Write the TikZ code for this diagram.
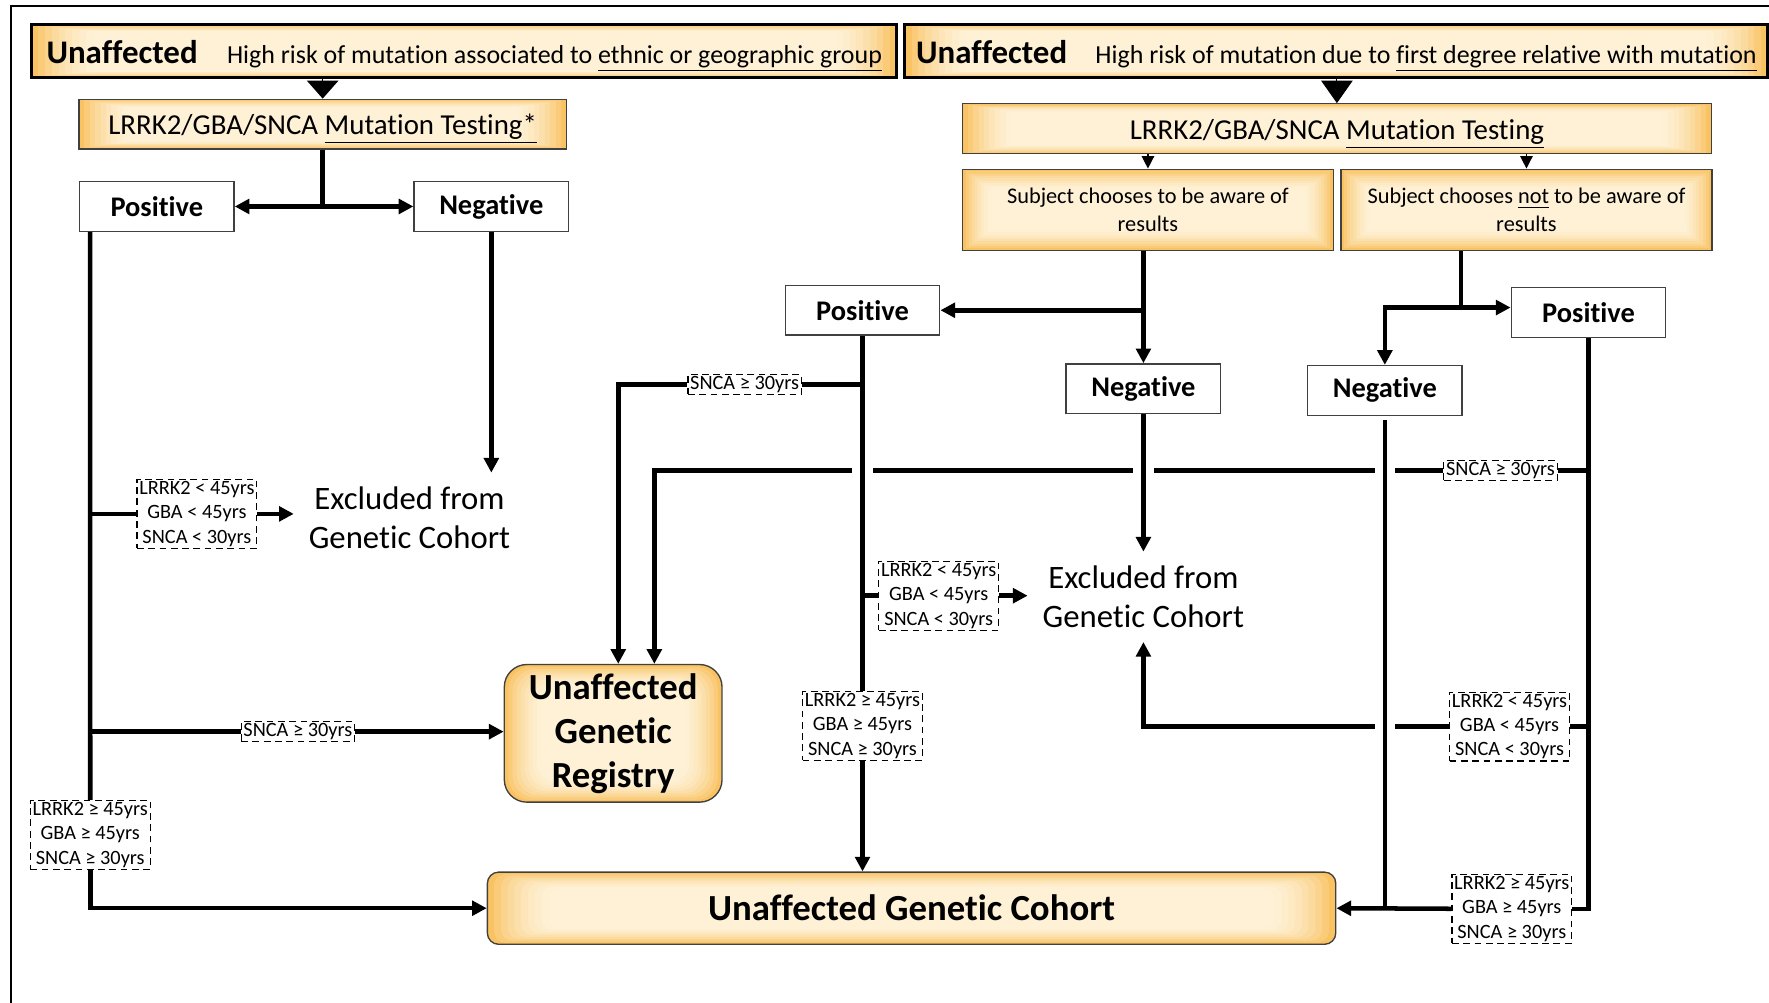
\documentclass[tikz,border=0pt]{standalone}
\usepackage{fontspec}
\setmainfont[Ligatures={NoCommon,NoContextual}]{Carlito}
\usetikzlibrary{arrows}
\usetikzlibrary{arrows.meta}

\definecolor{gold}{RGB}{249,194,98}
\definecolor{cream}{RGB}{254,241,214}
\newcommand{\bigword}[1]{{\bfseries\fontsize{14.6}{17}\selectfont #1}}

\begin{document}
\begin{tikzpicture}[x=0.5pt,y=-0.5pt,
    glow/.style 2 args={path picture={
      \foreach \i [evaluate=\i as \p using {int(100*(1-\i/10)^2)}] in {0,...,10}
        \fill[gold!\p!cream] ([xshift=\i*#1,yshift=\i*#2]path picture bounding box.south west)
          rectangle ([xshift=-\i*#1,yshift=-\i*#2]path picture bounding box.north east);
    }},
    header/.style={draw, line width=1.3pt, glow={3pt}{0.35pt}, minimum height=23.5pt,
      inner sep=0pt, text height=10.5pt, text depth=0pt, font=\fontsize{11.5}{14}\selectfont},
    testbox/.style={draw=black!75, line width=0.6pt, glow={2.4pt}{0.4pt}, minimum height=22pt,
      inner sep=0pt, text height=9.5pt, text depth=0pt, font=\fontsize{12.8}{15}\selectfont},
    choicebox/.style={draw=black!75, line width=0.6pt, glow={1.4pt}{1pt}, minimum width=164.5pt,
      minimum height=36pt, inner sep=0pt, align=center, font=\fontsize{9.9}{12}\selectfont},
    result/.style={draw=black!75, line width=0.6pt, fill=white, minimum width=68.5pt,
      minimum height=22pt, inner sep=0pt, font=\bfseries\fontsize{12.6}{15}\selectfont},
    cohortbox/.style={draw=black!75, line width=0.6pt, glow={1.8pt}{1pt},
      inner sep=0pt, align=center, font=\bfseries\fontsize{16.3}{19.5}\selectfont},
    excluded/.style={align=center, inner xsep=6.5pt, inner ysep=6pt,
      font=\fontsize{14.5}{17.5}\selectfont},
    cond/.style={draw, densely dashed, fill=white, line width=0.5pt, align=center,
      inner xsep=1pt, inner ysep=0.8pt, font=\fontsize{9}{10.8}\selectfont},
    link/.style={line width=2pt},
    arr/.style={line width=2pt, -{Triangle[length=6.5pt,width=6.5pt]}},
    twoway/.style={line width=2pt, {Triangle[length=6.5pt,width=6.5pt]}-{Triangle[length=6.5pt,width=6.5pt]}},
    hop/.style={preaction={draw=white, line width=9pt, -}},
  ]
  \useasboundingbox (0,0) rectangle (1568,889);

  % frame
  \draw[line width=1pt] (10,889) -- (10,5) -- (1568,5);

  % top row
  \node[header, minimum width=383.5pt] (hdrL) at (411.5,45.5)
    {\bigword{Unaffected}\hspace{13pt}High risk of mutation associated to \underline{ethnic or geographic group}};
  \node[header, minimum width=382.5pt] (hdrR) at (1184.5,45.5)
    {\bigword{Unaffected}\hspace{12.5pt}High risk of mutation due to \underline{first degree relative with mutation}};
  \node[testbox, minimum width=216pt] (testL) at (286,110) {LRRK2/GBA/SNCA \underline{Mutation Testing*}};
  \node[testbox, minimum width=332pt] (testR) at (1185,114) {LRRK2/GBA/SNCA \underline{Mutation Testing}};
  \node[choicebox] (aware) at (1017.5,186) {Subject chooses to be aware of\\results};
  \node[choicebox] (unaware) at (1353,186) {Subject chooses \underline{not} to be aware of\\results};

  % test results
  \node[result] (posL) at (139,183) {Positive};
  \node[result] (negL) at (435.5,183) {Negative};
  \node[result] (posM) at (764.5,275) {Positive};
  \node[result] (negM) at (1013.5,344.5) {Negative};
  \node[result] (posR) at (1408,277) {Positive};
  \node[result] (negR) at (1227.5,346) {Negative};

  % outcomes
  \node[excluded] (exL) at (363,459) {Excluded from\\Genetic Cohort};
  \node[excluded] (exR) at (1013.5,529) {Excluded from\\Genetic Cohort};
  \node[cohortbox, rounded corners=10pt, minimum width=96.5pt, minimum height=61pt] (reg)
    at (543.5,650) {Unaffected\\Genetic\\Registry};
  \node[cohortbox, rounded corners=5pt, glow={3pt}{0.8pt}, minimum width=376pt, minimum height=32pt] (cohort)
    at (808,805) {Unaffected Genetic Cohort};

  % age conditions
  \node[cond] (cL1) at (174.5,455.5) {LRRK2 < 45yrs\\GBA < 45yrs\\SNCA < 30yrs};
  \node[cond] (cL2) at (264,648.5) {SNCA ≥ 30yrs};
  \node[cond] (cL3) at (80,740) {LRRK2 ≥ 45yrs\\GBA ≥ 45yrs\\SNCA ≥ 30yrs};
  \node[cond] (cM1) at (660,341) {SNCA ≥ 30yrs};
  \node[cond] (cM2) at (832,528) {LRRK2 < 45yrs\\GBA < 45yrs\\SNCA < 30yrs};
  \node[cond] (cM3) at (764.5,643.5) {LRRK2 ≥ 45yrs\\GBA ≥ 45yrs\\SNCA ≥ 30yrs};
  \node[cond] (cR1) at (1330,417) {SNCA ≥ 30yrs};
  \node[cond] (cR2) at (1338,644) {LRRK2 < 45yrs\\GBA < 45yrs\\SNCA < 30yrs};
  \node[cond] (cR3) at (1340,805.5) {LRRK2 ≥ 45yrs\\GBA ≥ 45yrs\\SNCA ≥ 30yrs};

  % arrows below the headers
  \draw[line width=0.4pt, -{Triangle[length=8pt,width=14pt]}] (testL.north |- hdrL.south) -- (testL.north);
  \draw[line width=0.4pt, -{Triangle[length=10pt,width=14pt]}] (testR.north |- hdrR.south) -- (testR.north);
  \draw[line width=0.6pt, -{Triangle[length=5.5pt,width=5.5pt]}] (aware.north |- testR.south) -- (aware.north);
  \draw[line width=0.6pt, -{Triangle[length=5.5pt,width=5.5pt]}] (unaware.north |- testR.south) -- (unaware.north);

  % left branch
  \coordinate (pL) at ([xshift=5pt]posL.south west);
  \draw[link] (testL.south) -- (testL.south |- posL.east);
  \draw[twoway] (posL.east) -- (negL.west);
  \draw[arr] (negL.south) -- (negL.south |- exL.north);
  \draw[link] (pL) -- (cL3.north);
  \draw[arr] (cL3.south) |- (cohort.west);
  \draw[link] (pL |- cL1.west) -- (cL1.west);
  \draw[arr] (cL1.east) -- (cL1.east -| exL.west);
  \draw[link] (pL |- cL2.west) -- (cL2.west);
  \draw[arr] (cL2.east) -- (cL2.east -| reg.west);

  % right branch
  \coordinate (uA) at ([xshift=53.5pt]unaware.south west);
  \coordinate (jR) at ([yshift=-25pt]uA);
  \coordinate (rA) at ([xshift=18.25pt]reg.north);
  \coordinate (rB) at ([xshift=2.25pt]reg.north);
  \draw[link] (uA) -- (jR);
  \draw[arr] (jR) -- (jR -| posR.west);
  \draw[arr] (jR) -| (negR.north);
  \draw[link] (posR.south) |- (cR3.east);
  \draw[link] (posR.south |- cR1.east) -- (cR1.east);
  \draw[link] (posR.south |- cR2.east) -- (cR2.east);
  \draw[arr] (cR1.west) -| (rA);
  \draw[arr] (cR2.west) -| (exR.south);

  % lines that cross with a gap
  \draw[link, hop, shorten <=2pt] (negR.south) -- (negR.south |- cohort.east);
  \draw[arr, hop] (negM.south) -- (exR.north);
  \draw[link, hop] (posM.south) -- (cM3.north);

  % middle branch
  \coordinate (jM) at (negM.north |- posM.east);
  \draw[arr] (aware.south -| negM.north) -- (negM.north);
  \draw[arr] (jM) -- (posM.east);
  \draw[arr] (cM3.south) -- (cM3.south |- cohort.north);
  \draw[link] (posM.south |- cM1.east) -- (cM1.east);
  \draw[arr] (cM1.west) -| (rB);
  \draw[link] (posM.south |- cM2.west) -- (cM2.west);
  \draw[arr] (cM2.east) -- (cM2.east -| exR.west);
  \draw[arr] (cR3.west) -- (cohort.east);
\end{tikzpicture}
\end{document}
